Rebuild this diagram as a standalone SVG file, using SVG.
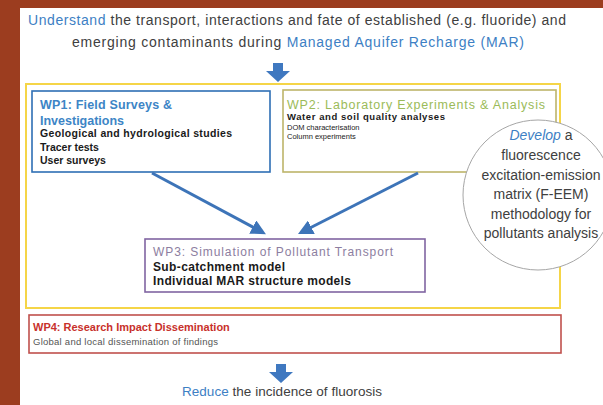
<svg xmlns="http://www.w3.org/2000/svg" width="603" height="405" viewBox="0 0 603 405">
<defs>
<style>
.t{font-family:"Liberation Sans",Arial,sans-serif;fill:#404040}
.blue{fill:#3d80c4}
.body{font-family:"Liberation Sans",Arial,sans-serif;fill:#1a1a1a}
.box{fill:#ffffff;stroke-width:1.6}
.conn{stroke:#3d74b8;stroke-width:3;fill:none;marker-end:url(#ah)}
.blk{fill:#3f78c0}
</style>
<marker id="ah" markerWidth="5" markerHeight="5" refX="3.5" refY="2.5" orient="auto" markerUnits="strokeWidth">
<path d="M0,0 L5,2.5 L0,5 Z" fill="#3d74b8"/>
</marker>
</defs>
<rect x="0" y="0" width="603" height="405" fill="#9c3d1f"/>
<rect x="20" y="8" width="583" height="397" fill="#ffffff"/>

<g id="goal">
<text class="t" x="28" y="25" font-size="14" textLength="538" lengthAdjust="spacing"><tspan class="blue">Understand</tspan> the transport, interactions and fate of established (e.g. fluoride) and</text>
<text class="t" x="72" y="47" font-size="14" textLength="452" lengthAdjust="spacing">emerging contaminants during <tspan class="blue">Managed Aquifer Recharge (MAR)</tspan></text>
</g>
<g id="arrow-top">
<path class="blk" d="M273,63 H283 V71 H290 L278,82 L266,71 H273 Z"/>
</g>

<g id="outer">
<rect x="26" y="84" width="534" height="224" fill="none" stroke="#f5d547" stroke-width="2"/>
</g>

<g id="wp1">
<rect class="box" x="32" y="91" width="238" height="81" stroke="#2e6fb5"/>
<text class="t" font-size="12.5" font-weight="bold" x="40" y="109" style="fill:#3d85c6" textLength="132" lengthAdjust="spacing">WP1: Field Surveys &amp;</text>
<text class="t" font-size="12.5" font-weight="bold" x="40" y="125" style="fill:#3d85c6">Investigations</text>
<text class="body" font-size="10.5" font-weight="bold" x="40" y="137" textLength="192" lengthAdjust="spacing">Geological and hydrological studies</text>
<text class="body" font-size="10.5" font-weight="bold" x="40" y="151">Tracer tests</text>
<text class="body" font-size="10.5" font-weight="bold" x="40" y="164">User surveys</text>
</g>

<g id="wp2">
<rect class="box" x="283" y="90" width="273" height="82" stroke="#bdb56a"/>
<text class="t" font-size="12.5" x="287" y="109" style="fill:#9bbb59" textLength="258" lengthAdjust="spacing">WP2: Laboratory Experiments &amp; Analysis</text>
<text class="body" font-size="9.5" font-weight="bold" x="287" y="120" textLength="158" lengthAdjust="spacing">Water and soil quality analyses</text>
<text class="body" font-size="7.5" x="287" y="130">DOM characterisation</text>
<text class="body" font-size="7.5" x="287" y="139">Column experiments</text>
</g>

<g id="fluor">
<circle cx="538" cy="195" r="75" fill="#ffffff" stroke="#a6a6a6" stroke-width="1"/>
<text class="t" font-size="14" text-anchor="middle" x="541" y="140"><tspan class="blue" font-style="italic">Develop</tspan> a</text>
<text class="t" font-size="14" text-anchor="middle" x="541" y="160">fluorescence</text>
<text class="t" font-size="14" text-anchor="middle" x="541" y="180">excitation-emission</text>
<text class="t" font-size="14" text-anchor="middle" x="541" y="199">matrix (F-EEM)</text>
<text class="t" font-size="14" text-anchor="middle" x="541" y="219">methodology for</text>
<text class="t" font-size="14" text-anchor="middle" x="541" y="238">pollutants analysis</text>
</g>

<g id="connectors">
<line class="conn" x1="152" y1="173" x2="262" y2="232"/>
<line class="conn" x1="418" y1="173" x2="302" y2="232"/>
</g>

<g id="wp3">
<rect class="box" x="145" y="239" width="280" height="53" stroke="#8064a2"/>
<text class="t" font-size="12" x="153" y="256" style="fill:#8c7ea0" textLength="240" lengthAdjust="spacing">WP3: Simulation of Pollutant Transport</text>
<text class="body" font-size="12" font-weight="bold" x="153" y="271" textLength="132" lengthAdjust="spacing">Sub-catchment model</text>
<text class="body" font-size="12" font-weight="bold" x="153" y="285" textLength="198" lengthAdjust="spacing">Individual MAR structure models</text>
</g>

<g id="wp4">
<rect class="box" x="29" y="315" width="532" height="38" stroke="#c0504d"/>
<text class="t" font-size="11" font-weight="bold" x="33" y="331" style="fill:#c8312b">WP4: Research Impact Dissemination</text>
<text class="t" font-size="9.5" x="33" y="345" style="fill:#555555" textLength="185" lengthAdjust="spacing">Global and local dissemination of findings</text>
</g>

<g id="arrow-bottom">
<path class="blk" d="M276,364 H286 V372 H293 L281,383 L269,372 H276 Z"/>
</g>
<g id="outcome">
<text class="t" font-size="13.5" x="182" y="396" textLength="200" lengthAdjust="spacing"><tspan class="blue">Reduce</tspan> the incidence  of fluorosis</text>
</g>
</svg>
